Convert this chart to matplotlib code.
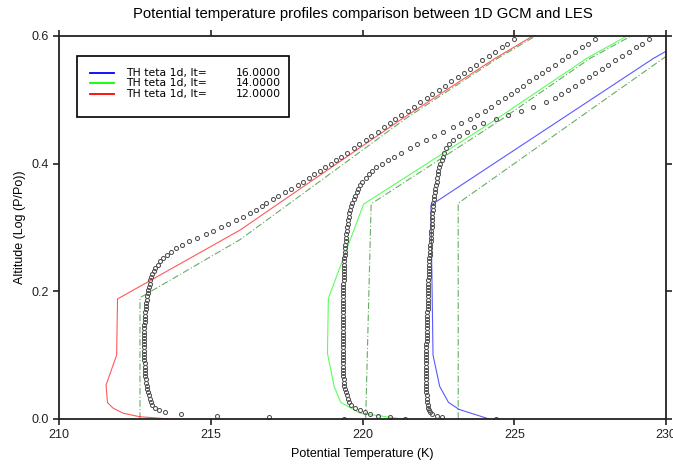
import numpy as np
import matplotlib
matplotlib.use("Agg")
import matplotlib.pyplot as plt
from matplotlib.lines import Line2D
from matplotlib.patches import Rectangle

plt.rcParams['font.family'] = ['Liberation Sans', 'DejaVu Sans']

# LES profiles (open circles), one shared altitude grid
alt_les = [0.0005, 0.0025, 0.0045, 0.0075, 0.0105, 0.0135,
           0.017, 0.022, 0.027, 0.032, 0.037, 0.042, 0.047, 0.052, 0.057, 0.062,
           0.067, 0.072, 0.077, 0.082, 0.087, 0.092, 0.097, 0.102, 0.107, 0.112,
           0.117, 0.122, 0.127, 0.132, 0.137, 0.142, 0.147, 0.152, 0.157, 0.162,
           0.167, 0.172, 0.177, 0.182, 0.187, 0.192, 0.197, 0.202, 0.207, 0.212,
           0.217, 0.222, 0.227, 0.232, 0.237, 0.242, 0.247, 0.252,
           0.257, 0.262, 0.268, 0.273, 0.279, 0.284, 0.290, 0.295, 0.301, 0.306,
           0.312, 0.317, 0.323, 0.328, 0.334, 0.339, 0.345, 0.350, 0.356, 0.361,
           0.367, 0.372, 0.378, 0.383, 0.389, 0.394, 0.400, 0.405,
           0.411, 0.417, 0.424, 0.430, 0.437, 0.443, 0.450, 0.457, 0.463, 0.470,
           0.476, 0.483, 0.489, 0.496, 0.503, 0.509, 0.516, 0.522, 0.529, 0.536,
           0.542, 0.549, 0.555, 0.562, 0.569, 0.575, 0.582, 0.588, 0.595]

th_les_12 = [219.4, 216.9, 215.2, 214.0, 213.5, 213.28,
             213.17, 213.07, 213.02, 212.98, 212.95, 212.92, 212.90, 212.88, 212.86, 212.85,
             212.83, 212.82, 212.82, 212.81, 212.81, 212.80, 212.80, 212.80, 212.79, 212.79,
             212.79, 212.79, 212.79, 212.79, 212.80, 212.80, 212.80, 212.81, 212.82, 212.83,
             212.84, 212.85, 212.86, 212.87, 212.88, 212.90, 212.91, 212.93, 212.95, 212.98,
             213.00, 213.03, 213.07, 213.11, 213.17, 213.24, 213.33, 213.42,
             213.54, 213.68, 213.86, 214.03, 214.29, 214.53, 214.82, 215.06, 215.34, 215.57,
             215.83, 216.05, 216.29, 216.47, 216.67, 216.83, 217.03, 217.21, 217.44, 217.63,
             217.86, 218.04, 218.24, 218.41, 218.60, 218.76, 218.95, 219.11,
             219.30, 219.49, 219.70, 219.89, 220.10, 220.29, 220.50, 220.70, 220.89, 221.08,
             221.28, 221.49, 221.68, 221.89, 222.11, 222.30, 222.52, 222.71, 222.92, 223.14,
             223.33, 223.55, 223.74, 223.95, 224.17, 224.36, 224.58, 224.77, 224.98]

th_les_14 = [221.4, 220.9, 220.5, 220.25, 220.08, 219.92,
             219.76, 219.63, 219.56, 219.51, 219.47, 219.44, 219.42, 219.40, 219.38, 219.37,
             219.36, 219.36, 219.35, 219.35, 219.35, 219.34, 219.34, 219.34, 219.34, 219.34,
             219.34, 219.34, 219.34, 219.34, 219.34, 219.34, 219.34, 219.34, 219.34, 219.34,
             219.34, 219.34, 219.35, 219.35, 219.35, 219.35, 219.35, 219.36, 219.36, 219.36,
             219.37, 219.37, 219.38, 219.38, 219.39, 219.39, 219.40, 219.40,
             219.41, 219.42, 219.42, 219.43, 219.44, 219.45, 219.46, 219.48, 219.49, 219.51,
             219.53, 219.54, 219.56, 219.58, 219.62, 219.65, 219.70, 219.74, 219.80, 219.85,
             219.91, 219.99, 220.10, 220.20, 220.32, 220.44, 220.65, 220.84,
             221.05, 221.28, 221.55, 221.80, 222.08, 222.35, 222.66, 222.98, 223.25, 223.55,
             223.77, 224.02, 224.22, 224.45, 224.68, 224.88, 225.10, 225.30, 225.50, 225.72,
             225.90, 226.12, 226.33, 226.56, 226.78, 226.99, 227.23, 227.42, 227.66]

th_les_16 = [224.4, 222.6, 222.45, 222.3, 222.22, 222.18,
             222.16, 222.14, 222.13, 222.12, 222.11, 222.10, 222.10, 222.10, 222.09, 222.09,
             222.09, 222.09, 222.09, 222.09, 222.09, 222.09, 222.09, 222.10, 222.10, 222.10,
             222.10, 222.11, 222.11, 222.11, 222.11, 222.12, 222.12, 222.12, 222.13, 222.13,
             222.13, 222.14, 222.14, 222.15, 222.15, 222.15, 222.16, 222.16, 222.17, 222.17,
             222.17, 222.18, 222.18, 222.19, 222.19, 222.19, 222.20, 222.20,
             222.21, 222.21, 222.22, 222.23, 222.24, 222.25, 222.26, 222.26, 222.27, 222.27,
             222.28, 222.29, 222.30, 222.31, 222.32, 222.33, 222.34, 222.36, 222.38, 222.40,
             222.42, 222.44, 222.46, 222.47, 222.50, 222.52, 222.56, 222.60,
             222.64, 222.69, 222.76, 222.84, 222.97, 223.17, 223.43, 223.68, 223.98, 224.38,
             224.78, 225.22, 225.62, 226.05, 226.33, 226.55, 226.78, 227.00, 227.22, 227.45,
             227.65, 227.88, 228.09, 228.33, 228.56, 228.77, 229.01, 229.22, 229.45]

# 1D GCM profiles (solid lines)
gcm12_th = [213.62, 212.64, 212.11, 211.78, 211.59, 211.54, 211.89, 211.92, 215.96, 221.29, 224.37, 225.61]
gcm12_alt = [0.0, 0.0036, 0.009, 0.0167, 0.0256, 0.053, 0.100, 0.188, 0.296, 0.470, 0.565, 0.600]
gcm14_th = [221.31, 219.92, 219.28, 219.06, 218.84, 218.87, 220.03, 224.42, 227.39, 228.71]
gcm14_alt = [0.0, 0.009, 0.026, 0.051, 0.103, 0.189, 0.3365, 0.470, 0.565, 0.600]
gcm16_th = [224.17, 223.18, 222.83, 222.54, 222.32, 222.25, 229.59, 230.0]
gcm16_alt = [0.0, 0.015, 0.026, 0.051, 0.100, 0.335, 0.565, 0.576]

# reference profiles (green dash-dot)
ref12_th = [212.66, 212.66, 215.96, 221.40, 224.45, 225.70]
ref12_alt = [0.0, 0.19, 0.281, 0.47, 0.565, 0.60]
ref14_th = [220.10, 220.28, 224.60, 227.50, 228.85]
ref14_alt = [0.0, 0.337, 0.47, 0.565, 0.60]
ref16_th = [223.15, 223.15, 230.0]
ref16_alt = [0.0, 0.338, 0.568]

legend_times = ["16.0000", "14.0000", "12.0000"]
legend_colors = ["#0000ff", "#00ff00", "#ff0000"]

fig = plt.figure(figsize=(6.73, 4.66), dpi=100)
ax = fig.add_axes([0.0881, 0.1009, 0.9015, 0.8219])

for th, alt in [(ref12_th, ref12_alt), (ref14_th, ref14_alt), (ref16_th, ref16_alt)]:
    ax.plot(th, alt, color="#3d9a3d", lw=0.8, alpha=0.8, dashes=(6, 2, 1, 2))

for th, alt, c in [(gcm16_th, gcm16_alt, legend_colors[0]),
                   (gcm14_th, gcm14_alt, legend_colors[1]),
                   (gcm12_th, gcm12_alt, legend_colors[2])]:
    ax.plot(th, alt, color=c, lw=0.8, alpha=0.65)

for th in [th_les_12, th_les_14, th_les_16]:
    ax.plot(th, alt_les, ls="none", marker="o", ms=2.9, mfc="none",
            mec="#505050", mew=0.75)

ax.set_xlim(210, 230)
ax.set_ylim(0.0, 0.6)
ax.set_xticks([210, 215, 220, 225, 230])
ax.set_yticks([0.0, 0.2, 0.4, 0.6])
ax.set_yticklabels(["0.0", "0.2", "0.4", "0.6"])
ax.tick_params(direction="out", length=4, width=1.2, labelsize=9,
               top=True, right=True, colors="#222222")
for s in ax.spines.values():
    s.set_linewidth(1.3)
    s.set_color("#222222")

ax.set_xlabel("Potential Temperature (K)", fontsize=9, labelpad=5)
ax.set_ylabel("Altitude (Log (P/Po))", fontsize=9, labelpad=4)
ax.set_title("Potential temperature profiles comparison between 1D GCM and LES",
             fontsize=10.7, pad=13)

# legend box drawn by hand
ax.add_patch(Rectangle((0.0297, 0.789), 0.349, 0.159, transform=ax.transAxes,
                       fill=True, fc="white", ec="black", lw=1.2, zorder=5))
rows_y = [0.904, 0.8765, 0.849]
for y, t, c in zip(rows_y, legend_times, legend_colors):
    ax.add_line(Line2D([0.0506, 0.090], [y, y], transform=ax.transAxes,
                       color=c, lw=1.3, zorder=6))
    ax.text(0.110, y, "TH teta 1d, lt=", transform=ax.transAxes, fontsize=7.8,
            family="DejaVu Sans", va="center", ha="left", zorder=6)
    ax.text(0.365, y, t, transform=ax.transAxes, fontsize=7.8,
            family="DejaVu Sans", va="center", ha="right", zorder=6)

fig.savefig("out.png", dpi=100)
